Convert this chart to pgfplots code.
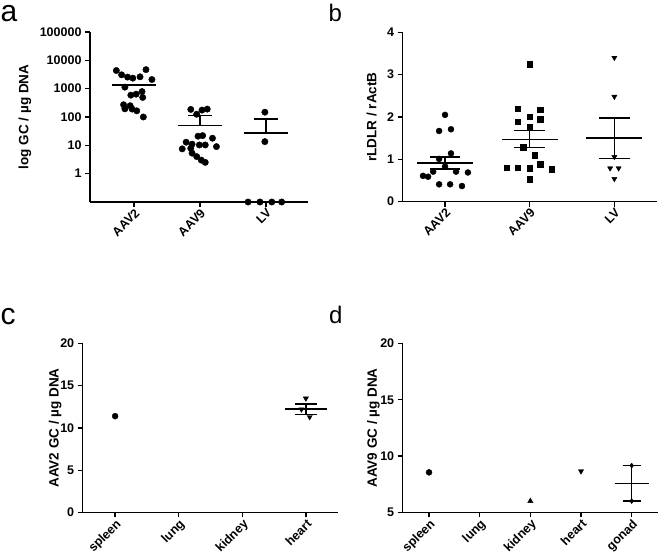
\documentclass[border=0pt]{standalone}
\usepackage{fontspec}
\setmainfont{Liberation Sans}
\usepackage{pgfplots}
\pgfplotsset{compat=1.18}
\pgfplotsset{
  panel/.style={
    scale only axis, anchor=south west,
    axis lines=left, axis line style={-, line width=1.4pt},
    every tick/.style={line width=1.3pt, black},
    major tick length=5pt, tick align=outside,
    xtick pos=bottom, ytick pos=left,
    clip=false,
    yticklabel style={font=\bfseries\fontsize{12.5}{14}\selectfont},
    xticklabel style={font=\bfseries\fontsize{12.5}{14}\selectfont, rotate=45, anchor=north east, inner sep=0.5pt},
    label style={font=\bfseries\fontsize{13.5}{15}\selectfont},
    /pgf/number format/assume math mode=true,
  },
  meanline/.style={black, line width=1.4pt, no markers, forget plot},
  pts/.style={black, only marks, mark options={fill=black, draw=black}},
}
\tikzset{letter/.style={anchor=base west, inner sep=0pt, text height=16pt, text depth=0pt}}
\begin{document}
\begin{tikzpicture}
\useasboundingbox (0pt,0pt) rectangle (658pt,556pt);
% panel letters
\node[letter, font=\fontsize{30}{30}\selectfont] at (0.5pt,534.5pt) {a};
\node[letter, font=\fontsize{24}{24}\selectfont] at (328.5pt,534pt) {b};
\node[letter, font=\fontsize{30}{30}\selectfont] at (0.5pt,231pt) {c};
\node[letter, font=\fontsize{24}{24}\selectfont] at (329pt,232.7pt) {d};

% ---------------- panel a ----------------
\begin{axis}[panel, at={(90pt,354pt)}, width=218pt, height=170pt,
  ymode=log, ymin=0.1, ymax=100000, xmin=0.33, xmax=3.64,
  xtick={1,2,3}, xticklabels={AAV2,AAV9,LV},
  ytick={1,10,100,1000,10000,100000}, yticklabels={1,10,100,1000,10000,100000},
  yminorticks=false,
  ylabel={log GC / µg DNA},
  ylabel style={at={(axis description cs:-0.298,0.5)}, anchor=center}]
\addplot[pts, mark=*, mark size=3.2pt] coordinates {
(0.73,4360) (0.81,3080) (0.90,2560) (0.98,2350) (1.09,2620) (1.18,4700) (1.27,2100)
(0.86,1130) (0.95,590) (1.03,640) (1.12,790) (1.13,490) (0.84,270) (0.94,250)
(0.86,194) (0.97,190) (1.04,165) (1.14,100)};
\addplot[pts, mark=*, mark size=3.2pt] coordinates {
(1.86,185) (1.95,125) (2.03,175) (2.11,190) (1.97,21) (2.04,22) (1.79,12.9) (1.88,11)
(1.99,10.3) (2.08,10.3) (2.19,17.8) (2.25,9) (1.73,7.5) (1.86,7.9) (1.88,5.3) (1.95,4.0)
(2.02,3.0) (2.08,2.5)};
\addplot[pts, mark=*, mark size=3.2pt] coordinates {
(2.985,148) (2.985,13.5) (2.73,0.1) (2.91,0.1) (3.09,0.1) (3.24,0.1)};
\addplot[meanline] coordinates {(0.67,1350) (1.33,1350)};
\addplot[meanline] coordinates {(1.67,50) (2.33,50)};
\addplot[meanline] coordinates {(2,50) (2,112)};
\addplot[meanline] coordinates {(1.82,112) (2.18,112)};
\addplot[meanline] coordinates {(2.67,27) (3.33,27)};
\addplot[meanline] coordinates {(3,27) (3,85)};
\addplot[meanline] coordinates {(2.82,85) (3.18,85)};
\end{axis}

% ---------------- panel b ----------------
\begin{axis}[panel, at={(402.7pt,354.3pt)}, width=254pt, height=169.4pt,
  ymin=0, ymax=4, xmin=0.5, xmax=3.5,
  xtick={1,2,3}, xticklabels={AAV2,AAV9,LV},
  ytick={0,1,2,3,4},
  ylabel={rLDLR / rActB},
  ylabel style={at={(axis description cs:-0.122,0.5)}, anchor=center}]
\addplot[pts, mark=*, mark size=3pt] coordinates {
(1,2.05) (0.93,1.67) (1.07,1.71) (1.07,1.14) (0.93,1.01) (1,0.83) (0.86,0.71)
(0.74,0.61) (0.8,0.59) (1.13,0.71) (1.27,0.69) (0.93,0.41) (1.06,0.41) (1.2,0.37)};
\addplot[pts, mark=square*, mark size=2.8pt] coordinates {
(2,3.25) (1.86,2.20) (2.125,2.17) (1.86,1.89) (2,2.01) (2.125,1.95) (2,1.76) (1.92,1.28)
(2.06,1.10) (2.125,0.88) (1.73,0.80) (1.86,0.80) (2,0.79) (2.26,0.77) (2,0.53)};
\addplot[pts, mark=triangle*, mark size=3pt, mark options={rotate=180, fill=black}] coordinates {
(3,3.40) (3,2.48) (3,1.06) (2.95,0.79) (3.05,0.79) (3,0.54)};
\addplot[meanline] coordinates {(0.67,0.91) (1.33,0.91)};
\addplot[meanline] coordinates {(1,0.77) (1,1.06)};
\addplot[meanline] coordinates {(0.82,1.06) (1.18,1.06)};
\addplot[meanline] coordinates {(0.82,0.77) (1.18,0.77)};
\addplot[meanline] coordinates {(1.67,1.47) (2.33,1.47)};
\addplot[meanline] coordinates {(2,1.28) (2,1.68)};
\addplot[meanline] coordinates {(1.82,1.68) (2.18,1.68)};
\addplot[meanline] coordinates {(1.82,1.28) (2.18,1.28)};
\addplot[meanline] coordinates {(2.67,1.50) (3.33,1.50)};
\addplot[meanline] coordinates {(3,1.02) (3,1.98)};
\addplot[meanline] coordinates {(2.82,1.98) (3.18,1.98)};
\addplot[meanline] coordinates {(2.82,1.02) (3.18,1.02)};
\end{axis}

% ---------------- panel c ----------------
\begin{axis}[panel, at={(82.7pt,43.5pt)}, width=255.6pt, height=169pt,
  ymin=0, ymax=20, xmin=0.49, xmax=4.51,
  xtick={1,2,3,4}, xticklabels={spleen,lung,kidney,heart},
  ytick={0,5,10,15,20},
  ylabel={AAV2 GC / µg DNA},
  ylabel style={at={(axis description cs:-0.108,0.5)}, anchor=center}]
\addplot[pts, mark=*, mark size=3pt] coordinates {(1,11.4)};
\addplot[pts, mark=triangle*, mark size=3pt, mark options={rotate=180, fill=black}] coordinates {
(4,13.5) (3.93,12.2) (4.06,11.3)};
\addplot[meanline] coordinates {(3.67,12.26) (4.33,12.26)};
\addplot[meanline] coordinates {(4,11.6) (4,12.85)};
\addplot[meanline] coordinates {(3.83,12.85) (4.17,12.85)};
\addplot[meanline] coordinates {(3.83,11.6) (4.17,11.6)};
\end{axis}

% ---------------- panel d ----------------
\begin{axis}[panel, at={(402.7pt,43.7pt)}, width=255.3pt, height=168.7pt,
  ymin=5, ymax=20, xmin=0.48, xmax=5.52,
  xtick={1,2,3,4,5}, xticklabels={spleen,lung,kidney,heart,gonad},
  ytick={5,10,15,20},
  ylabel={AAV9 GC / µg DNA},
  ylabel style={at={(axis description cs:-0.115,0.5)}, anchor=center}]
\addplot[pts, mark=*, mark size=3pt] coordinates {(1,8.55)};
\addplot[pts, mark=triangle*, mark size=3pt] coordinates {(3,6.0)};
\addplot[pts, mark=triangle*, mark size=3pt, mark options={rotate=180, fill=black}] coordinates {(4,8.65)};
\addplot[pts, mark=diamond*, mark size=2.5pt] coordinates {(5,9.15) (5,6.0)};
\addplot[meanline] coordinates {(4.665,7.58) (5.335,7.58)};
\addplot[meanline] coordinates {(5,6.0) (5,9.15)};
\addplot[meanline] coordinates {(4.82,9.15) (5.18,9.15)};
\addplot[meanline] coordinates {(4.82,6.0) (5.18,6.0)};
\end{axis}
\end{tikzpicture}
\end{document}
